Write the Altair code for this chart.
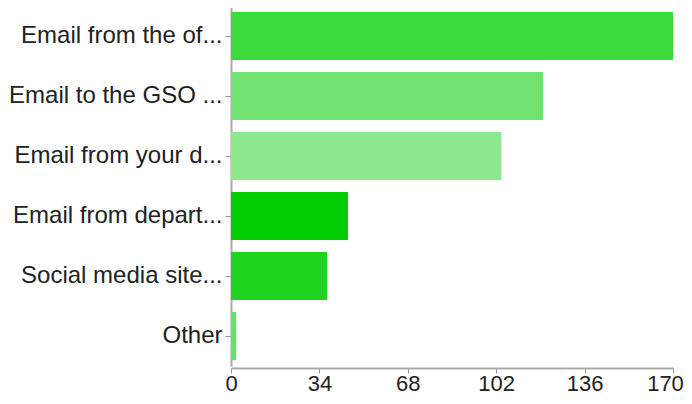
import altair as alt
import pandas as pd

categories = [
    "Email from the of...",
    "Email to the GSO ...",
    "Email from your d...",
    "Email from depart...",
    "Social media site...",
    "Other",
]
values = [170, 120, 104, 45, 37, 2]
colors = ["#3bdb3b", "#70e370", "#8ce88c", "#00cc00", "#1fd41f", "#66e066"]
x_ticks = [0, 34, 68, 102, 136, 170]

df = pd.DataFrame({"category": categories, "value": values})

chart = (
    alt.Chart(df)
    .mark_bar()
    .encode(
        y=alt.Y(
            "category:N",
            sort=categories,
            title=None,
            scale=alt.Scale(paddingInner=0.2, paddingOuter=0.1),
            axis=alt.Axis(
                labelFont="Liberation Sans",
                labelFontSize=24,
                labelColor="#222222",
                labelPadding=3,
                tickSize=6,
                tickColor="#999999",
                domainColor="#aaaaaa",
                domainWidth=2,
                labelLimit=400,
            ),
        ),
        x=alt.X(
            "value:Q",
            title=None,
            scale=alt.Scale(domain=[0, 170], nice=False),
            axis=alt.Axis(
                values=x_ticks,
                grid=False,
                labelFont="Liberation Sans",
                labelFontSize=22,
                labelColor="#222222",
                labelPadding=0,
                labelOffset=alt.condition(
                    "datum.value == 170", alt.value(-8), alt.value(0)
                ),
                tickSize=5,
                tickColor="#999999",
                domainColor="#aaaaaa",
                domainWidth=2,
                labelFlush=False,
                offset=2,
            ),
        ),
        color=alt.Color(
            "category:N",
            scale=alt.Scale(domain=categories, range=colors),
            legend=None,
        ),
    )
    .properties(
        width=442,
        height=360,
        autosize=alt.AutoSizeParams(type="none"),
        padding={"left": 223, "top": -2, "right": 11, "bottom": 30},
    )
    .configure_view(stroke=None)
)

chart.save("out.html", embed_options={"renderer": "svg", "actions": False})
